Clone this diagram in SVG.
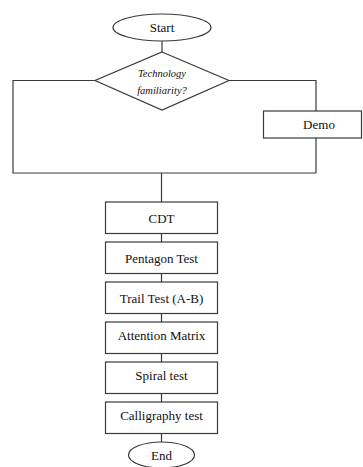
<svg xmlns="http://www.w3.org/2000/svg" width="363" height="467" viewBox="0 0 363 467">
  <style>
    .shape { fill: #ffffff; stroke: #3a3a3a; stroke-width: 1.2; }
    .wire { fill: none; stroke: #3a3a3a; stroke-width: 1.2; }
    .label { font-family: "Liberation Serif", "Times New Roman", serif; font-size: 13px; fill: #111; text-anchor: middle; }
    .q { font-family: "Liberation Serif", "Times New Roman", serif; font-size: 10.5px; font-style: italic; fill: #111; text-anchor: middle; }
  </style>
  <rect width="363" height="467" fill="#ffffff"/>

  <g id="connectors">
    <line class="wire" x1="162" y1="41" x2="162" y2="52"/>
    <polyline class="wire" points="95,80.5 13,80.5 13,173 316,173"/>
    <polyline class="wire" points="229,80.5 316,80.5 316,111"/>
    <line class="wire" x1="316" y1="138" x2="316" y2="173"/>
    <line class="wire" x1="161.5" y1="173" x2="161.5" y2="202"/>
    <line class="wire" x1="161.5" y1="233.5" x2="161.5" y2="242"/>
    <line class="wire" x1="161.5" y1="273.5" x2="161.5" y2="282"/>
    <line class="wire" x1="161.5" y1="313.5" x2="161.5" y2="322"/>
    <line class="wire" x1="161.5" y1="353.5" x2="161.5" y2="362"/>
    <line class="wire" x1="161.5" y1="393.5" x2="161.5" y2="402"/>
    <line class="wire" x1="161.5" y1="433.5" x2="161.5" y2="442"/>
  </g>

  <g id="start">
    <ellipse class="shape" cx="162" cy="27.5" rx="49" ry="13.5"/>
    <text class="label" x="162" y="32">Start</text>
  </g>

  <g id="decision">
    <polygon class="shape" points="162,52 229,80.5 162,110 95,80.5"/>
    <text class="q" x="162" y="77">Technology</text>
    <text class="q" x="162" y="93.5">familiarity?</text>
  </g>

  <g id="demo">
    <rect class="shape" x="263.5" y="111" width="98" height="27"/>
    <text class="label" x="319" y="128.5">Demo</text>
  </g>

  <g id="cdt">
    <rect class="shape" x="105.5" y="202" width="112" height="31.5"/>
    <text class="label" x="161.5" y="222.5">CDT</text>
  </g>

  <g id="pentagon">
    <rect class="shape" x="105.5" y="242" width="112" height="31.5"/>
    <text class="label" x="161.5" y="262.5">Pentagon Test</text>
  </g>

  <g id="trail">
    <rect class="shape" x="105.5" y="282" width="112" height="31.5"/>
    <text class="label" x="161.5" y="302.5">Trail Test (A-B)</text>
  </g>

  <g id="attention">
    <rect class="shape" x="105.5" y="322" width="112" height="31.5"/>
    <text class="label" x="161.5" y="339.5">Attention Matrix</text>
  </g>

  <g id="spiral">
    <rect class="shape" x="105.5" y="362" width="112" height="31.5"/>
    <text class="label" x="161.5" y="379.5">Spiral test</text>
  </g>

  <g id="calligraphy">
    <rect class="shape" x="105.5" y="402" width="112" height="31.5"/>
    <text class="label" x="161.5" y="419.5">Calligraphy test</text>
  </g>

  <g id="end">
    <ellipse class="shape" cx="161.5" cy="455" rx="33" ry="13"/>
    <text class="label" x="161.5" y="460">End</text>
  </g>
</svg>
